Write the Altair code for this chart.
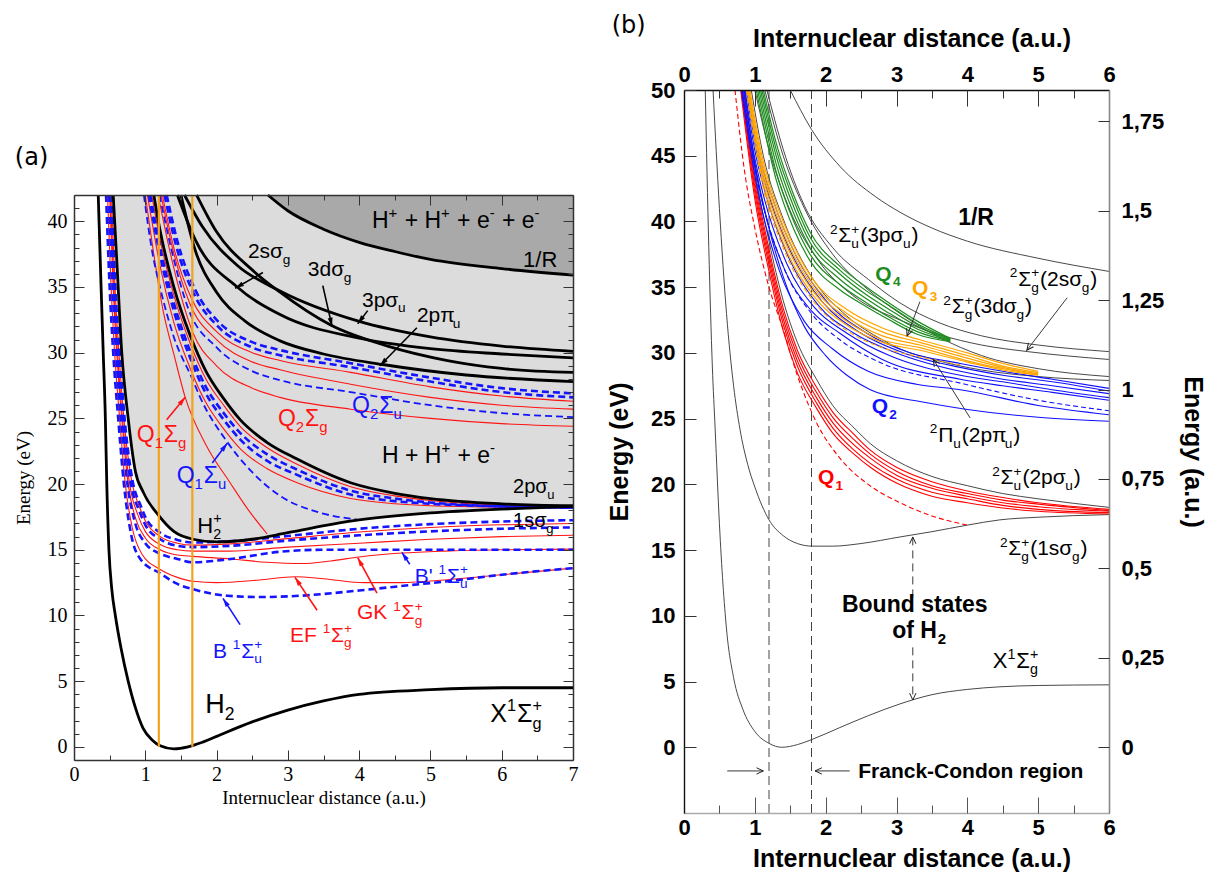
import math
import altair as alt
import pandas as pd

# ---------------- page layout: where each panel's plot rectangle sits ----------------
PAGE_W, PAGE_H = 1220, 872
A_XR, A_YR = [74, 573], [760, 195]
B_XR, B_YR = [684, 1109], [813, 90]
A_XD, A_YD = [0, 7], [-1, 42]
B_XD, B_YD = [0, 6], [-5, 50]
HARTREE_EV = 27.2114
B_AUD = [B_YD[0] / HARTREE_EV, B_YD[1] / HARTREE_EV]

# ---------------- tick values ----------------
A_XTICKS = [0, 1, 2, 3, 4, 5, 6, 7]
A_XMINOR = [0.5, 1.5, 2.5, 3.5, 4.5, 5.5, 6.5]
A_YTICKS = [0, 5, 10, 15, 20, 25, 30, 35, 40]
A_YMINOR = [1, 2, 3, 4, 6, 7, 8, 9, 11, 12, 13, 14, 16, 17, 18, 19, 21, 22, 23, 24,
            26, 27, 28, 29, 31, 32, 33, 34, 36, 37, 38, 39, 41]
B_XTICKS = [0, 1, 2, 3, 4, 5, 6]
B_XMINOR = [0.5, 1.5, 2.5, 3.5, 4.5, 5.5]
B_YTICKS = [0, 5, 10, 15, 20, 25, 30, 35, 40, 45, 50]
B_AUTICKS = [0, 0.25, 0.5, 0.75, 1, 1.25, 1.5, 1.75]

# ================= panel (a) potential curves (R in a.u., E in eV) =================
A_X_STATE = [(0.34, 42), (0.38, 35), (0.41, 30), (0.44, 25), (0.46, 20), (0.49, 15), (0.53, 12),
             (0.58, 10), (0.66, 7.5), (0.76, 5), (0.86, 3), (0.97, 1.4), (1.1, 0.5), (1.2, 0.1),
             (1.4, -0.15), (1.6, 0), (1.8, 0.35), (2.0, 0.8), (2.5, 1.9), (3.0, 2.8), (3.5, 3.5),
             (4.0, 4.0), (5.0, 4.35), (6.0, 4.5), (7.0, 4.5)]
A_ION_1SSG = [(0.55, 42), (0.6, 37), (0.67, 30), (0.76, 25), (0.86, 21.0), (0.97, 19.4), (1.19, 17.6),
              (1.4, 16.4), (1.67, 15.8), (2.0, 15.6), (2.5, 15.8), (3.0, 16.3), (3.9, 17.2), (5.0, 17.8),
              (6.0, 18.1), (7.0, 18.3)]
A_ION_2PSU = [(1.12, 42), (1.2, 39.5), (1.4, 35), (1.63, 31.3), (1.85, 28.6), (2.1, 26.5), (2.33, 24.9),
              (2.7, 23.2), (3.13, 21.9), (3.88, 20.1), (4.5, 19.3), (5.0, 18.9), (6.0, 18.5), (7.0, 18.35)]
A_COULOMB = [(2.72, 42), (3.0, 40.8), (3.5, 39.4), (4.0, 38.4), (4.5, 37.7), (5.0, 37.1), (6.0, 36.4), (7.0, 35.9)]
A_ION_3PSU = [(1.55, 42), (1.8, 39.6), (2.3, 36.6), (2.89, 34.7), (3.99, 32.4), (5.0, 31.2), (6.0, 30.5), (7.0, 30.1)]
A_ION_2SSG = [(1.45, 42), (1.7, 38.6), (2.29, 35.0), (2.89, 32.9), (4.0, 31.1), (5.0, 30.3), (6.0, 29.9), (7.0, 29.6)]
A_ION_3DSG = [(1.72, 42), (2.0, 39.2), (2.5, 36.3), (2.89, 34.6), (3.6, 32.1), (4.4, 30.5), (5.24, 29.4),
              (6.0, 28.8), (7.0, 28.5)]
A_ION_2PPU = [(1.5, 42), (1.7, 37.8), (2.0, 34.6), (2.4, 32.4), (2.89, 30.9), (3.5, 29.9), (4.33, 29.1),
              (5.5, 28.3), (7.0, 27.8)]

A_Q2U_1 = [(1.30, 42), (1.45, 38.5), (1.7, 34.8), (2.0, 32.5), (2.5, 30.8), (2.89, 30.2), (3.88, 29.2),
           (5.0, 28.1), (6.0, 27.3), (7.0, 26.9)]
A_Q2U_2 = [(1.27, 42), (1.43, 38.2), (1.68, 34.5), (2.0, 32.1), (2.5, 30.4), (2.89, 29.8), (3.88, 28.9),
           (5.0, 27.8), (6.0, 27.0), (7.0, 26.6)]
A_Q2G_1 = [(1.24, 42), (1.4, 38), (1.65, 34.1), (2.0, 31.6), (2.5, 30.0), (2.89, 29.4), (3.88, 28.5),
           (5.0, 27.4), (6.0, 26.7), (7.0, 26.3)]
A_Q2G_2 = [(1.22, 42), (1.38, 38), (1.62, 33.8), (2.0, 31.0), (2.5, 29.3), (2.89, 28.7), (3.88, 27.6),
           (5.0, 26.6), (6.0, 26.0), (7.0, 25.7)]
A_Q2U_3 = [(1.2, 42), (1.36, 38), (1.6, 33.4), (2.0, 30.4), (2.5, 28.6), (2.89, 27.9), (3.88, 27.0),
           (5.0, 26.0), (6.0, 25.4), (7.0, 25.1)]
A_Q2G_3 = [(1.18, 42), (1.35, 37.6), (1.67, 31.5), (2.0, 29.0), (2.5, 27.3), (2.89, 26.6), (3.88, 25.7),
           (5.0, 25.0), (6.0, 24.6), (7.0, 24.4)]

A_Q1G_1 = [(1.09, 42), (1.2, 38.8), (1.4, 34.4), (1.63, 30.7), (1.85, 28.0), (2.1, 26.0), (2.33, 24.4),
           (2.7, 22.8), (3.13, 21.5), (3.88, 19.8), (4.5, 19.1), (5.0, 18.75), (6.0, 18.4), (7.0, 18.3)]
A_Q1U_1 = [(1.07, 42), (1.2, 38.2), (1.4, 33.8), (1.63, 30.1), (1.85, 27.4), (2.1, 25.4), (2.33, 23.9),
           (2.7, 22.3), (3.13, 21.1), (3.88, 19.5), (4.5, 18.9), (5.0, 18.6), (6.0, 18.3), (7.0, 18.2)]
A_Q1U_2 = [(1.05, 42), (1.2, 37.6), (1.4, 33.2), (1.63, 29.6), (1.85, 26.9), (2.1, 24.9), (2.33, 23.4),
           (2.7, 21.8), (3.13, 20.7), (3.88, 19.2), (4.5, 18.7), (5.0, 18.5), (6.0, 18.3), (7.0, 18.2)]
A_Q1G_2 = [(1.03, 42), (1.2, 36.8), (1.4, 32.3), (1.63, 28.8), (1.85, 26.2), (2.1, 24.2), (2.33, 22.7),
           (2.7, 21.2), (3.13, 20.1), (3.88, 18.9), (4.5, 18.5), (5.0, 18.35), (6.0, 18.25), (7.0, 18.2)]
A_Q1U_3 = [(0.98, 42), (1.1, 37.6), (1.21, 34.9), (1.4, 31.2), (1.66, 28.0), (1.77, 26.6), (2.15, 23.2),
           (2.5, 20.9), (2.89, 19.1), (3.4, 17.9), (3.97, 17.3)]
A_Q1G_3 = [(1.0, 42), (1.1, 38.2), (1.25, 33.2), (1.4, 29.9), (1.56, 26.6), (1.85, 23.0), (2.19, 20.1),
           (2.45, 18.0), (2.71, 16.2)]

A_B = [(0.45, 42), (0.5, 35), (0.55, 30), (0.62, 25), (0.7, 20), (0.8, 16.2), (0.93, 14.3), (1.21, 13.2),
       (1.45, 12.4), (1.67, 12.0), (2.15, 11.5), (2.6, 11.4), (3.17, 11.5), (4.0, 11.9), (4.7, 12.3),
       (5.24, 12.6), (6.0, 13.1), (7.0, 13.6)]
A_EF = [(0.47, 42), (0.52, 35), (0.57, 30), (0.64, 25), (0.72, 20), (0.82, 16.6), (0.95, 14.7), (1.21, 13.5),
        (1.45, 12.9), (1.67, 12.6), (2.0, 12.5), (2.6, 12.7), (3.1, 12.95), (3.5, 12.8), (4.07, 12.5),
        (4.6, 12.5), (5.2, 12.7), (6.0, 13.1), (7.0, 13.6)]
A_BP = [(0.49, 42), (0.54, 35), (0.59, 30), (0.66, 25), (0.75, 20), (0.86, 17), (1.0, 15.5), (1.21, 14.7),
        (1.45, 14.3), (1.67, 14.05), (2.2, 14.3), (2.89, 14.85), (3.5, 15.0), (4.62, 15.0), (6.0, 15.0), (7.0, 15.0)]
A_GK = [(0.5, 42), (0.55, 35), (0.6, 30), (0.67, 25), (0.76, 20), (0.87, 17.3), (1.0, 15.9), (1.21, 15.0),
        (1.45, 14.6), (1.67, 14.5), (2.2, 14.3), (2.7, 14.05), (3.2, 13.95), (3.6, 14.15), (4.0, 14.45),
        (4.6, 14.75), (5.2, 14.9), (6.0, 15.0), (7.0, 15.05)]
A_RYD_G1 = [(0.51, 42), (0.56, 35), (0.61, 30), (0.68, 25), (0.78, 20), (0.9, 17.6), (1.0, 16.4), (1.21, 15.4),
            (1.45, 15.0), (1.67, 14.9), (2.2, 14.9), (3.0, 15.2), (4.0, 15.5), (5.0, 15.8), (6.0, 16.0), (7.0, 16.1)]
A_RYD_U1 = [(0.52, 42), (0.57, 35), (0.62, 30), (0.69, 25), (0.8, 20), (0.92, 17.9), (1.0, 16.9), (1.21, 15.8),
            (1.45, 15.3), (1.67, 15.2), (2.2, 15.3), (3.0, 15.7), (4.0, 16.1), (5.0, 16.4), (6.0, 16.6), (7.0, 16.7)]
A_RYD_G2 = [(0.525, 42), (0.575, 35), (0.63, 30), (0.7, 25), (0.81, 20.2), (0.93, 18.1), (1.0, 17.2),
            (1.21, 16.0), (1.45, 15.5), (1.67, 15.35), (2.2, 15.45), (3.0, 15.85), (4.0, 16.35), (5.0, 16.7),
            (6.0, 16.9), (7.0, 17.0)]
A_RYD_U2 = [(0.53, 42), (0.58, 35), (0.64, 30), (0.71, 25), (0.82, 20.3), (0.94, 18.3), (1.0, 17.5),
            (1.21, 16.3), (1.45, 15.75), (1.67, 15.55), (2.2, 15.65), (3.0, 16.05), (4.0, 16.6), (5.0, 16.95),
            (6.0, 17.15), (7.0, 17.25)]

A_FC_LINES = [1.19, 1.66]

# ================= panel (b) potential curves =================
B_X_STATE = [(0.30, 50), (0.35, 38), (0.4, 29), (0.44, 24.2), (0.5, 17), (0.6, 9.0), (0.7, 5.3), (0.83, 2.9),
             (1.0, 1.2), (1.2, 0.3), (1.38, 0), (1.6, 0.2), (1.81, 0.6), (2.2, 1.5), (2.6, 2.4), (3.05, 3.3),
             (3.5, 4.0), (4.0, 4.4), (4.46, 4.6), (5.0, 4.7), (6.0, 4.75)]
B_ION_1SSG = [(0.41, 50), (0.5, 41), (0.6, 33), (0.7, 27.5), (0.79, 24.2), (0.9, 21.5), (1.0, 19.8), (1.2, 17.3),
              (1.4, 16.1), (1.6, 15.5), (1.81, 15.3), (2.1, 15.3), (2.5, 15.5), (3.05, 16.0), (3.5, 16.4),
              (4.0, 16.9), (4.46, 17.3), (5.0, 17.5), (6.0, 17.7)]
B_ION_2PSU = [(0.86, 50), (1.0, 44), (1.2, 38.5), (1.4, 34), (1.6, 30.8), (1.87, 28), (2.1, 26), (2.4, 24.3),
              (2.63, 23.1), (3.0, 21.8), (3.5, 20.6), (4.0, 19.9), (4.5, 19.3), (5.0, 18.9), (6.0, 18.25)]
B_COULOMB = [(1.5, 50), (1.8, 47), (2.2, 44.2), (2.7, 41.9), (3.05, 40.7), (3.5, 39.5), (4.0, 38.5),
             (5.0, 37.2), (6.0, 36.2)]
B_ION_3PSU = [(1.17, 50), (1.4, 45.5), (1.7, 41.2), (2.1, 38.0), (2.6, 35.6), (3.05, 33.8), (3.6, 32.3),
              (4.2, 31.3), (5.0, 30.6), (6.0, 30.1)]
B_ION_2SSG = [(1.0, 50), (1.2, 45.5), (1.5, 40.8), (1.9, 37.0), (2.4, 34.3), (3.05, 32.5), (3.6, 31.4),
              (4.2, 30.6), (4.85, 30.1), (6.0, 29.5)]
B_ION_3DSG = [(1.14, 50), (1.4, 45), (1.7, 41), (2.1, 37.5), (2.6, 34.8), (3.05, 33.0), (3.6, 31.2),
              (4.2, 29.8), (5.0, 28.8), (6.0, 28.2)]
B_ION_2PPU = [(0.95, 50), (1.1, 45.5), (1.4, 40.2), (1.8, 35.8), (2.3, 32.8), (2.8, 31.0), (3.05, 30.3),
              (3.52, 29.5), (4.2, 28.7), (5.0, 28.2), (6.0, 27.9)]

B_Q1_1 = [(0.84, 50), (1.0, 43.4), (1.2, 37.9), (1.4, 33.4), (1.6, 30.2), (1.87, 27.4), (2.1, 25.5), (2.4, 23.8),
          (2.63, 22.6), (3.0, 21.3), (3.5, 20.2), (4.0, 19.5), (4.5, 19.0), (5.0, 18.6), (6.0, 18.1)]
B_Q1_2 = [(0.83, 50), (1.0, 43.0), (1.2, 37.5), (1.4, 33.0), (1.6, 29.8), (1.87, 27.0), (2.1, 25.1), (2.4, 23.4),
          (2.63, 22.3), (3.0, 21.0), (3.5, 19.9), (4.0, 19.3), (4.5, 18.8), (5.0, 18.5), (6.0, 18.0)]
B_Q1_3 = [(0.82, 50), (1.0, 42.6), (1.2, 37.1), (1.4, 32.6), (1.6, 29.4), (1.87, 26.6), (2.1, 24.7), (2.4, 23.0),
          (2.63, 22.0), (3.0, 20.7), (3.5, 19.7), (4.0, 19.1), (4.5, 18.6), (5.0, 18.3), (6.0, 17.95)]
B_Q1_4 = [(0.81, 50), (1.0, 42.2), (1.2, 36.7), (1.4, 32.2), (1.6, 29.0), (1.87, 26.2), (2.1, 24.3), (2.4, 22.6),
          (2.63, 21.6), (3.0, 20.4), (3.5, 19.4), (4.0, 18.9), (4.5, 18.4), (5.0, 18.1), (6.0, 17.85)]
B_Q1_5 = [(0.80, 50), (1.0, 41.7), (1.2, 36.2), (1.4, 31.7), (1.6, 28.5), (1.87, 25.8), (2.1, 23.9), (2.4, 22.3),
          (2.63, 21.3), (3.0, 20.1), (3.5, 19.1), (4.0, 18.6), (4.5, 18.2), (5.0, 17.95), (6.0, 17.75)]
B_Q1_DASH = [(0.72, 50), (0.85, 44), (1.0, 39.5), (1.2, 35.0), (1.4, 31.8), (1.6, 28.3), (1.88, 24.6),
             (2.2, 22.0), (2.6, 20.0), (3.05, 18.6), (3.5, 17.6), (4.0, 16.9)]

B_Q2_1 = [(0.90, 50), (1.0, 46.5), (1.26, 41.6), (1.6, 37.2), (2.0, 34.0), (2.58, 31.5), (3.2, 30.0), (3.9, 29.2),
          (4.5, 28.6), (5.2, 28.0), (6.0, 27.3)]
B_Q2_2 = [(0.88, 50), (1.0, 46.0), (1.22, 41.6), (1.55, 37.2), (1.95, 33.9), (2.5, 31.5), (3.1, 30.0), (3.9, 28.9),
          (4.5, 28.3), (5.2, 27.8), (6.0, 27.1)]
B_Q2_3 = [(0.86, 50), (1.0, 45.4), (1.18, 41.6), (1.5, 37.0), (1.9, 33.6), (2.4, 31.5), (3.0, 30.0), (3.9, 28.6),
          (4.5, 28.0), (5.2, 27.5), (6.0, 26.9)]
B_Q2_4 = [(0.84, 50), (1.0, 44.8), (1.14, 41.6), (1.45, 36.8), (1.85, 33.4), (2.3, 31.5), (2.9, 29.8), (3.9, 28.3),
          (4.5, 27.8), (5.2, 27.2), (6.0, 26.6)]
B_Q2_5 = [(0.82, 50), (1.0, 44.2), (1.1, 41.6), (1.4, 36.6), (1.8, 33.2), (2.2, 31.5), (2.8, 29.5), (3.9, 28.0),
          (4.5, 27.5), (5.2, 27.0), (6.0, 26.4)]
B_Q2_6 = [(0.81, 50), (1.0, 43.5), (1.07, 41.6), (1.35, 36.2), (1.7, 32.4), (2.1, 30.3), (2.6, 28.6), (3.3, 27.6),
          (3.9, 27.2), (5.0, 26.0), (6.0, 25.3)]
B_Q2_7 = [(0.85, 50), (1.0, 44.5), (1.2, 39.5), (1.4, 35.8), (1.7, 32.0), (2.0, 29.8), (2.3, 28.3), (2.63, 27.2),
          (3.33, 26.3), (4.0, 25.7), (5.0, 25.1), (6.0, 24.8)]
B_Q2_DASH = [(0.82, 50), (1.0, 44), (1.1, 41.6), (1.4, 36.6), (1.8, 33.0), (2.2, 31.0), (2.8, 29.2), (3.9, 27.7),
             (5.0, 26.4), (6.0, 25.6)]

B_Q3_1 = [(0.93, 50), (1.1, 45), (1.4, 40), (1.82, 35.6), (2.3, 33.3), (2.8, 31.9), (3.33, 31.0), (4.0, 30.0),
          (4.5, 29.2), (5.0, 28.6)]
B_Q3_2 = [(0.92, 50), (1.1, 44.6), (1.4, 39.6), (1.82, 35.3), (2.3, 33.0), (2.8, 31.6), (3.33, 30.8), (4.0, 29.8),
          (4.5, 29.0), (5.0, 28.5)]
B_Q3_3 = [(0.91, 50), (1.1, 44.2), (1.4, 39.2), (1.82, 35.0), (2.3, 32.7), (2.8, 31.3), (3.33, 30.6), (4.0, 29.6),
          (4.5, 28.9), (5.0, 28.4)]
B_Q3_4 = [(0.90, 50), (1.1, 43.8), (1.4, 38.8), (1.82, 34.7), (2.3, 32.4), (2.8, 31.0), (3.33, 30.4), (4.0, 29.4),
          (4.5, 28.8), (5.0, 28.35)]
B_Q3_5 = [(0.89, 50), (1.1, 43.4), (1.4, 38.4), (1.82, 34.4), (2.3, 32.1), (2.8, 30.8), (3.33, 30.2), (4.0, 29.3),
          (4.5, 28.7), (5.0, 28.3)]
B_Q3_DASH = [(0.88, 50), (1.1, 43), (1.4, 38), (1.82, 34.0), (2.3, 31.7), (2.8, 30.4), (3.33, 29.7), (3.9, 29.1)]

B_Q4_1 = [(1.12, 50), (1.3, 46), (1.55, 42), (1.78, 39.2), (2.2, 36.6), (2.58, 35.0), (2.87, 33.9), (3.3, 32.4), (3.76, 31.1)]
B_Q4_2 = [(1.10, 50), (1.3, 45.5), (1.55, 41.6), (1.78, 38.8), (2.2, 36.3), (2.58, 34.7), (2.87, 33.7), (3.3, 32.2), (3.76, 31.05)]
B_Q4_3 = [(1.08, 50), (1.3, 45.0), (1.55, 41.1), (1.78, 38.4), (2.2, 36.0), (2.58, 34.4), (2.87, 33.4), (3.3, 32.0), (3.76, 31.0)]
B_Q4_4 = [(1.06, 50), (1.3, 44.4), (1.55, 40.6), (1.78, 38.0), (2.2, 35.6), (2.58, 34.1), (2.87, 33.1), (3.3, 31.8), (3.76, 30.95)]
B_Q4_5 = [(1.04, 50), (1.3, 43.8), (1.55, 40.0), (1.78, 37.5), (2.2, 35.2), (2.58, 33.8), (2.87, 32.8), (3.3, 31.6), (3.76, 30.9)]
B_Q4_6 = [(1.02, 50), (1.3, 43.2), (1.55, 39.4), (1.78, 37.0), (2.2, 34.8), (2.58, 33.5), (2.87, 32.6), (3.3, 31.4), (3.76, 30.85)]

B_FC_LINES = [1.2, 1.8]

# ================= annotations =================
RED, BLUE = "#ff1414", "#1414ff"
B_RED, B_BLUE, B_ORANGE, B_GREEN, B_BLACK = "#ff0000", "#1010ff", "#ffa500", "#1e8c1e", "#333333"

A_LABELS = [  # (R, E, text with _sub / ^sup, font size, colour)
    (4.18, 39.5, "H^+ + H^+ + e^- + e^-", 23, "black"),
    (6.30, 36.5, "1/R", 22, "black"),
    (2.44, 37.2, "2sσ_g", 21, "black"),
    (3.28, 35.8, "3dσ_g", 21, "black"),
    (4.04, 33.5, "3pσ_u", 21, "black"),
    (4.81, 32.3, "2pπ_u", 21, "black"),
    (3.90, 25.4, "Q_2Σ_u", 23, BLUE),
    (2.86, 24.4, "Q_2Σ_g", 23, RED),
    (4.32, 21.6, "H + H^+ + e^-", 23, "black"),
    (6.16, 19.3, "2pσ_u", 20, "black"),
    (6.16, 16.7, "1sσ_g", 20, "black"),
    (4.78, 12.5, "B' ^1Σ_u^+", 21, BLUE),
    (3.97, 9.7, "GK ^1Σ_g^+", 21, RED),
    (3.03, 8.0, "EF ^1Σ_g^+", 21, RED),
    (5.84, 1.9, "X^1Σ_g^+", 25, "black"),
    (1.84, 2.6, "H_2", 27, "black"),
    (1.95, 6.8, "B ^1Σ_u^+", 21, BLUE),
    (1.44, 20.1, "Q_1Σ_u", 23, BLUE),
    (0.88, 23.2, "Q_1Σ_g", 23, RED),
    (1.73, 16.3, "H_2^+", 22, "black"),
]
A_ARROWS = [  # tail R, tail E, tip R, tip E, colour
    (2.65, 36.1, 2.26, 34.9, "black"),
    (3.49, 35.1, 3.62, 32.0, "black"),
    (4.12, 33.2, 3.98, 32.2, "black"),
    (4.81, 31.9, 4.29, 29.0, "black"),
    (1.30, 24.9, 1.56, 26.6, RED),
    (1.94, 21.6, 2.15, 23.1, BLUE),
    (4.71, 13.9, 4.60, 14.8, BLUE),
    (4.25, 11.7, 3.98, 14.4, RED),
    (3.41, 10.4, 3.10, 12.9, RED),
    (2.33, 9.3, 2.09, 11.3, BLUE),
]
B_LABELS = [
    (2.06, 38.4, "^2Σ_u^+(3pσ_u)", 21, "black"),
    (3.66, 33.0, "^2Σ_g^+(3dσ_g)", 21, "black"),
    (4.60, 35.1, "^2Σ_g^+(2sσ_g)", 21, "black"),
    (3.47, 23.2, "^2Π_u(2pπ_u)", 21, "black"),
    (4.35, 20.0, "^2Σ_u^+(2pσ_u)", 21, "black"),
    (4.46, 14.6, "^2Σ_g^+(1sσ_g)", 21, "black"),
    (4.36, 6.0, "X^1Σ_g^+", 22, "black"),
]
B_LABELS_BOLD = [
    (3.87, 39.7, "1/R", 23, "black"),
    (2.70, 35.5, "Q_4", 21, B_GREEN),
    (3.22, 34.4, "Q_3", 21, B_ORANGE),
    (2.65, 25.4, "Q_2", 21, B_BLUE),
    (1.89, 20.0, "Q_1", 21, B_RED),
    (2.23, 10.3, "Bound states", 23, "black"),
    (2.94, 8.3, "of H_2", 23, "black"),
    (2.46, -2.3, "Franck-Condon region", 21, "black"),
]
B_ARROWS = [
    (3.33, 33.9, 3.15, 31.3, "#222222"),
    (5.41, 34.2, 4.84, 30.2, "#222222"),
    (4.04, 25.05, 3.52, 29.5, "#222222"),
    (0.61, -1.8, 1.12, -1.8, "#222222"),
    (2.34, -1.8, 1.85, -1.8, "#222222"),
]
B_BOUND_ARROWS = [
    (3.23, 11.4, 3.23, 16.0, "#222222"),
    (3.23, 7.6, 3.23, 3.6, "#222222"),
]
PANEL_TAGS = [("a", -0.83, 44.3, "(a)"), ("b", -1.02, 54.3, "(b)")]

# ================= helpers =================
A_SX = (A_XR[1] - A_XR[0]) / (A_XD[1] - A_XD[0])
A_SY = (A_YR[0] - A_YR[1]) / (A_YD[1] - A_YD[0])
B_SX = (B_XR[1] - B_XR[0]) / (B_XD[1] - B_XD[0])
B_SY = (B_YR[0] - B_YR[1]) / (B_YD[1] - B_YD[0])


def xs(p):
    return alt.Scale(domain=A_XD if p == "a" else B_XD, range=A_XR if p == "a" else B_XR, nice=False, zero=False)


def ys(p):
    return alt.Scale(domain=A_YD if p == "a" else B_YD, range=A_YR if p == "a" else B_YR, nice=False, zero=False)


def au_scale():
    return alt.Scale(domain=B_AUD, range=B_YR, nice=False, zero=False)


def curve_layer(p, curves, color, width, dash=None):
    rows = []
    for k, pts in enumerate(curves):
        for i, (x, y) in enumerate(pts):
            rows.append({"curve": k, "i": i, "x": x, "y": y})
    mk = dict(color=color, strokeWidth=width, interpolate="monotone")
    if dash:
        mk["strokeDash"] = dash
    return alt.Chart(pd.DataFrame(rows)).mark_line(**mk).encode(
        x=alt.X("x:Q", scale=xs(p), axis=None),
        y=alt.Y("y:Q", scale=ys(p), axis=None),
        detail="curve:N", order="i:Q")


def band_layer(p, pts, top, color):
    df = pd.DataFrame({"x": [q[0] for q in pts], "y": [q[1] for q in pts]})
    df["y2"] = top
    return alt.Chart(df).mark_area(color=color, interpolate="monotone").encode(
        x=alt.X("x:Q", scale=xs(p), axis=None),
        y=alt.Y("y:Q", scale=ys(p), axis=None),
        y2="y2:Q")


def vrule_layer(p, xs_list, lo, hi, color, width, dash=None):
    df = pd.DataFrame({"x": xs_list, "y0": [lo] * len(xs_list), "y1": [hi] * len(xs_list)})
    mk = dict(color=color, strokeWidth=width)
    if dash:
        mk["strokeDash"] = dash
    return alt.Chart(df).mark_rule(**mk).encode(
        x=alt.X("x:Q", scale=xs(p), axis=None),
        y=alt.Y("y0:Q", scale=ys(p), axis=None),
        y2="y1:Q")


W_EM = {" ": 0.278, "(": 0.333, ")": 0.333, "+": 0.584, "-": 0.333, "/": 0.278, "'": 0.191, ",": 0.278,
        ".": 0.278, "B": 0.667, "C": 0.722, "E": 0.667, "F": 0.611, "G": 0.778, "H": 0.722, "K": 0.667,
        "Q": 0.778, "R": 0.722, "X": 0.667, "Σ": 0.62, "Π": 0.72, "σ": 0.6, "π": 0.6, "f": 0.278,
        "i": 0.222, "l": 0.222, "r": 0.333, "t": 0.278, "s": 0.5, "c": 0.5, "k": 0.5}


def tw(s, size, bold):
    return sum(W_EM.get(c, 0.556) for c in s) * size * (1.08 if bold else 1.0)


def tokens(s):
    out, buf, i = [], "", 0
    while i < len(s):
        c = s[i]
        if c in "_^" and i + 1 < len(s):
            if buf:
                out.append(("n", buf))
                buf = ""
            out.append(("sub" if c == "_" else "sup", s[i + 1]))
            i += 2
        else:
            buf += c
            i += 1
    if buf:
        out.append(("n", buf))
    return out


def label_rows(p, x, y, markup, size, color, bold=False):
    sx, sy = (A_SX, A_SY) if p == "a" else (B_SX, B_SY)
    toks = tokens(markup)
    rows, pen, k = [], 0.0, 0
    while k < len(toks):
        kind, t = toks[k]
        if kind == "n":
            lead = len(t) - len(t.lstrip(" "))
            core = t.strip(" ")
            pen_start = pen + tw(" " * lead, size, bold)
            if core:
                rows.append((pen_start, 0.0, core, size))
            pen += tw(t, size, bold)
        else:
            group = [(kind, t)]
            if k + 1 < len(toks) and toks[k + 1][0] in ("sub", "sup") and toks[k + 1][0] != kind:
                group.append(toks[k + 1])
                k += 1
            ss = size * 0.65
            adv = 0.0
            for kd, tt in group:
                dy = -0.42 * size if kd == "sup" else 0.27 * size
                rows.append((pen, dy, tt, ss))
                adv = max(adv, tw(tt, ss, bold))
            pen += adv + 0.04 * size
        k += 1
    return [{"x": x + dxp / sx, "y": y - dyp / sy, "text": t, "size": s, "color": color}
            for dxp, dyp, t, s in rows]


def text_layer(p, labels, font, weight):
    rows = []
    for x, y, m, size, color in labels:
        rows += label_rows(p, x, y, m, size, color, weight == "bold")
    return alt.Chart(pd.DataFrame(rows)).mark_text(
        align="left", baseline="alphabetic", font=font, fontWeight=weight).encode(
        x=alt.X("x:Q", scale=xs(p), axis=None),
        y=alt.Y("y:Q", scale=ys(p), axis=None),
        text="text:N",
        size=alt.Size("size:Q", scale=None),
        color=alt.Color("color:N", scale=None))


HEAD_FILLED = "M0,0L-0.45,1.6L0.45,1.6Z"
HEAD_OPEN = "M-0.6,1.3L0,0L0.6,1.3"


def arrow_layers(p, arrows, width, filled, head_size, dash=None):
    sx, sy = (A_SX, A_SY) if p == "a" else (B_SX, B_SY)
    lines, heads = [], []
    for k, (x0, y0, x1, y1, col) in enumerate(arrows):
        lines.append({"id": k, "i": 0, "x": x0, "y": y0, "color": col})
        lines.append({"id": k, "i": 1, "x": x1, "y": y1, "color": col})
        dxp = (x1 - x0) * sx
        dyp = -(y1 - y0) * sy
        ang = math.degrees(math.atan2(dxp, -dyp)) % 360
        heads.append({"x": x1, "y": y1, "ang": ang, "color": col})
    mk = dict(strokeWidth=width)
    if dash:
        mk["strokeDash"] = dash
    ln = alt.Chart(pd.DataFrame(lines)).mark_line(**mk).encode(
        x=alt.X("x:Q", scale=xs(p), axis=None),
        y=alt.Y("y:Q", scale=ys(p), axis=None),
        detail="id:N", order="i:Q",
        color=alt.Color("color:N", scale=None))
    if filled:
        hm = alt.Chart(pd.DataFrame(heads)).mark_point(shape=HEAD_FILLED, filled=True, size=head_size, opacity=1)
    else:
        hm = alt.Chart(pd.DataFrame(heads)).mark_point(shape=HEAD_OPEN, filled=False, size=head_size,
                                                       strokeWidth=1, opacity=1)
    hd = hm.encode(
        x=alt.X("x:Q", scale=xs(p), axis=None),
        y=alt.Y("y:Q", scale=ys(p), axis=None),
        angle=alt.Angle("ang:Q", scale=None),
        color=alt.Color("color:N", scale=None))
    return [ln, hd]


def axis_layer(p, channel, axis, yscale=None):
    xsc = xs(p)
    ysc = yscale if yscale is not None else ys(p)
    xd = A_XD if p == "a" else B_XD
    yd = B_AUD if yscale is not None else (A_YD if p == "a" else B_YD)
    df = pd.DataFrame({"x": [(xd[0] + xd[1]) / 2], "y": [(yd[0] + yd[1]) / 2]})
    return alt.Chart(df).mark_point(opacity=0).encode(
        x=alt.X("x:Q", scale=xsc, axis=axis if channel == "x" else None),
        y=alt.Y("y:Q", scale=ysc, axis=axis if channel == "y" else None))


def tick_axis(orient, offset, values, size, color="#333333"):
    return alt.Axis(orient=orient, offset=offset, values=values, labels=False, domain=False, ticks=True,
                    tickSize=size, tickColor=color, tickWidth=1, grid=False, title="", zindex=2)


def frame_axis(orient, offset, color, width):
    return alt.Axis(orient=orient, offset=offset, values=[], labels=False, ticks=False, tickSize=0,
                    domain=True, domainColor=color, domainWidth=width, grid=False, title="", zindex=2)


# ================= build layers =================
layers = []

# ---- panel (a) ----
layers.append(band_layer("a", A_ION_1SSG, A_YD[1], "#dcdcdc"))
layers.append(band_layer("a", A_COULOMB, A_YD[1], "#a9a9a9"))
layers.append(curve_layer("a", [A_Q2G_1, A_Q2G_2, A_Q2G_3, A_Q1G_1, A_Q1G_2, A_Q1G_3,
                                A_EF, A_GK, A_RYD_G1, A_RYD_G2], RED, 1.1))
layers.append(curve_layer("a", [A_Q2U_3, A_Q1U_3], BLUE, 1.8, [7, 4]))
layers.append(curve_layer("a", [A_Q2U_1, A_Q2U_2, A_Q1U_1, A_Q1U_2, A_B, A_BP, A_RYD_U1, A_RYD_U2],
                          BLUE, 2.6, [7, 4]))
layers.append(curve_layer("a", [A_X_STATE, A_ION_1SSG, A_ION_2PSU, A_COULOMB, A_ION_3PSU, A_ION_2SSG,
                                A_ION_3DSG, A_ION_2PPU], "black", 2.8))
layers.append(vrule_layer("a", A_FC_LINES, 0, A_YD[1], "#f5a21c", 2.2))
layers += arrow_layers("a", A_ARROWS, 1.6, True, 120)
layers.append(text_layer("a", A_LABELS, "Liberation Sans", "normal"))

# ---- panel (b) ----
layers.append(vrule_layer("b", B_FC_LINES, B_YD[0], B_YD[1], "#444444", 1, [9, 5]))
layers.append(curve_layer("b", [B_X_STATE, B_ION_1SSG, B_ION_2PSU, B_COULOMB, B_ION_3PSU, B_ION_2SSG,
                                B_ION_3DSG, B_ION_2PPU], B_BLACK, 0.9))
layers.append(curve_layer("b", [B_Q1_1, B_Q1_2, B_Q1_3, B_Q1_4, B_Q1_5], B_RED, 1.1))
layers.append(curve_layer("b", [B_Q1_DASH], B_RED, 1.1, [5, 3]))
layers.append(curve_layer("b", [B_Q2_1, B_Q2_2, B_Q2_3, B_Q2_4, B_Q2_5, B_Q2_6, B_Q2_7], B_BLUE, 1.1))
layers.append(curve_layer("b", [B_Q2_DASH], B_BLUE, 1.1, [5, 3]))
layers.append(curve_layer("b", [B_Q3_1, B_Q3_2, B_Q3_3, B_Q3_4, B_Q3_5], B_ORANGE, 1.2))
layers.append(curve_layer("b", [B_Q3_DASH], B_ORANGE, 1.1, [5, 3]))
layers.append(curve_layer("b", [B_Q4_1, B_Q4_2, B_Q4_3, B_Q4_4, B_Q4_5, B_Q4_6], B_GREEN, 1.2))
layers += arrow_layers("b", B_ARROWS, 0.9, False, 110)
layers += arrow_layers("b", B_BOUND_ARROWS, 0.9, False, 110, dash=[8, 5])
layers.append(text_layer("b", B_LABELS, "Liberation Sans", "normal"))
layers.append(text_layer("b", B_LABELS_BOLD, "Liberation Sans", "bold"))

# panel tags
for p, x, y, t in PANEL_TAGS:
    layers.append(alt.Chart(pd.DataFrame({"x": [x], "y": [y], "t": [t]})).mark_text(
        align="left", baseline="alphabetic", font="DejaVu Sans", fontSize=24, color="black").encode(
        x=alt.X("x:Q", scale=xs(p), axis=None), y=alt.Y("y:Q", scale=ys(p), axis=None), text="t:N"))

# ---- axes, panel (a) ----
SERIF = "Liberation Serif"
layers.append(axis_layer("a", "y", alt.Axis(
    orient="left", offset=-A_XR[0], values=A_YTICKS, ticks=False, tickSize=0, labelPadding=7,
    labelFont=SERIF, labelFontSize=20, labelColor="black", labelFlush=False, labelOverlap=False,
    domain=True, domainColor="#333333", domainWidth=1.5, grid=False, zindex=2,
    title="Energy (eV)", titleFont=SERIF, titleFontSize=19, titleFontWeight="normal",
    titleColor="black", titlePadding=14)))
layers.append(axis_layer("a", "x", alt.Axis(
    orient="bottom", offset=A_YR[0] - PAGE_H, values=A_XTICKS, ticks=False, tickSize=0, labelPadding=4,
    labelFont=SERIF, labelFontSize=20, labelColor="black", labelFlush=False, labelOverlap=False,
    domain=True, domainColor="#333333", domainWidth=1.5, grid=False, zindex=2,
    title="Internuclear distance (a.u.)", titleFont=SERIF, titleFontSize=19, titleFontWeight="normal",
    titleColor="black", titlePadding=4)))
layers.append(axis_layer("a", "x", frame_axis("top", -A_YR[1], "#333333", 1.5)))
layers.append(axis_layer("a", "y", frame_axis("right", A_XR[1] - PAGE_W, "#333333", 1.5)))
layers.append(axis_layer("a", "y", tick_axis("right", A_XR[0] - PAGE_W, A_YTICKS, 10)))
layers.append(axis_layer("a", "y", tick_axis("right", A_XR[0] - PAGE_W, A_YMINOR, 5)))
layers.append(axis_layer("a", "y", tick_axis("left", -A_XR[1], A_YTICKS, 10)))
layers.append(axis_layer("a", "y", tick_axis("left", -A_XR[1], A_YMINOR, 5)))
layers.append(axis_layer("a", "x", tick_axis("top", -A_YR[0], A_XTICKS, 10)))
layers.append(axis_layer("a", "x", tick_axis("top", -A_YR[0], A_XMINOR, 5)))
layers.append(axis_layer("a", "x", tick_axis("bottom", A_YR[1] - PAGE_H, A_XTICKS, 10)))
layers.append(axis_layer("a", "x", tick_axis("bottom", A_YR[1] - PAGE_H, A_XMINOR, 5)))

# ---- axes, panel (b) ----
SANS = "Liberation Sans"
B_TITLE_X = (B_XR[0] + B_XR[1]) / 2 + 15
layers.append(axis_layer("b", "y", alt.Axis(
    orient="left", offset=-B_XR[0], values=B_YTICKS, ticks=False, tickSize=0, labelPadding=9,
    labelFont=SANS, labelFontSize=22, labelFontWeight="bold", labelColor="black", labelFlush=False,
    labelOverlap=False, domain=True, domainColor="#111111", domainWidth=1.4, grid=False, zindex=2,
    title="Energy (eV)", titleFont=SANS, titleFontSize=25, titleFontWeight="bold", titleColor="black",
    titlePadding=18)))
layers.append(axis_layer("b", "y", alt.Axis(
    orient="right", offset=B_XR[1] - PAGE_W, values=B_AUTICKS, ticks=False, tickSize=0, labelPadding=12,
    labelExpr="replace(format(datum.value, ''), '.', ',')",
    labelFont=SANS, labelFontSize=22, labelFontWeight="bold", labelColor="black", labelFlush=False,
    labelOverlap=False, domain=True, domainColor="#888888", domainWidth=1.6, grid=False, zindex=2,
    title="Energy (a.u.)", titleFont=SANS, titleFontSize=25, titleFontWeight="bold", titleColor="black",
    titlePadding=16), yscale=au_scale()))
layers.append(axis_layer("b", "x", alt.Axis(
    orient="bottom", offset=B_YR[0] - PAGE_H, values=B_XTICKS, ticks=False, tickSize=0, labelPadding=4,
    labelFont=SANS, labelFontSize=22, labelFontWeight="bold", labelColor="black", labelFlush=False,
    labelOverlap=False, domain=True, domainColor="#aaaaaa", domainWidth=1.5, grid=False, zindex=2,
    title="Internuclear distance (a.u.)", titleFont=SANS, titleFontSize=25, titleFontWeight="bold",
    titleColor="black", titlePadding=8, titleX=B_TITLE_X)))
layers.append(axis_layer("b", "x", alt.Axis(
    orient="top", offset=-B_YR[1], values=B_XTICKS, ticks=False, tickSize=0, labelPadding=4,
    labelFont=SANS, labelFontSize=22, labelFontWeight="bold", labelColor="black", labelFlush=False,
    labelOverlap=False, domain=True, domainColor="#111111", domainWidth=1.4, grid=False, zindex=2,
    title="Internuclear distance (a.u.)", titleFont=SANS, titleFontSize=25, titleFontWeight="bold",
    titleColor="black", titlePadding=12, titleX=B_TITLE_X)))
layers.append(axis_layer("b", "y", tick_axis("right", B_XR[0] - PAGE_W, B_YTICKS, 12)))
layers.append(axis_layer("b", "y", tick_axis("left", -B_XR[1], B_AUTICKS, 11), yscale=au_scale()))
layers.append(axis_layer("b", "x", tick_axis("top", -B_YR[0], B_XTICKS, 16, "#555555")))
layers.append(axis_layer("b", "x", tick_axis("top", -B_YR[0], B_XMINOR, 8, "#555555")))
layers.append(axis_layer("b", "x", tick_axis("bottom", B_YR[1] - PAGE_H, B_XTICKS, 16, "#333333")))
layers.append(axis_layer("b", "x", tick_axis("bottom", B_YR[1] - PAGE_H, B_XMINOR, 8, "#333333")))

chart = alt.layer(*layers).resolve_scale(x="independent", y="independent").properties(
    width=PAGE_W, height=PAGE_H, padding=0, autosize=alt.AutoSizeParams(type="none"),
    background="white").configure_view(strokeWidth=0)

chart.save("out.html", embed_options={"renderer": "svg", "actions": False})
